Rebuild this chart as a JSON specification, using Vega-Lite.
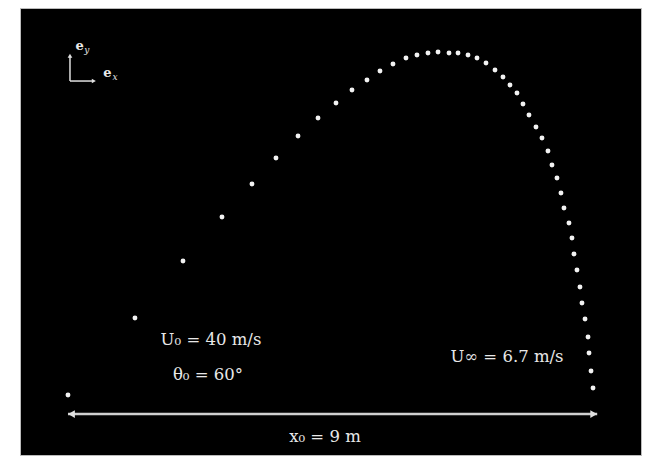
{
  "$schema": "https://vega.github.io/schema/vega-lite/v6.json",
  "width": 621,
  "height": 447,
  "autosize": {"type": "none"},
  "padding": {"left": 20, "top": 8, "right": 13, "bottom": 12},
  "background": "white",
  "config": {"view": {"fill": "black", "stroke": "#bbbbbb", "strokeWidth": 1}},
  "datasets": {
    "traj": [
      {"x": 0, "y": 0}, {"x": 1.139, "y": 1.31}, {"x": 1.956, "y": 2.279}, {"x": 2.619, "y": 3.027},
      {"x": 3.129, "y": 3.588}, {"x": 3.537, "y": 4.031}, {"x": 3.912, "y": 4.405}, {"x": 4.252, "y": 4.711},
      {"x": 4.558, "y": 4.966}, {"x": 4.83, "y": 5.187}, {"x": 5.085, "y": 5.357}, {"x": 5.306, "y": 5.51},
      {"x": 5.527, "y": 5.629}, {"x": 5.748, "y": 5.731}, {"x": 5.935, "y": 5.782}, {"x": 6.122, "y": 5.816},
      {"x": 6.293, "y": 5.833}, {"x": 6.48, "y": 5.816}, {"x": 6.633, "y": 5.816}, {"x": 6.803, "y": 5.782},
      {"x": 6.956, "y": 5.731}, {"x": 7.109, "y": 5.646}, {"x": 7.262, "y": 5.527}, {"x": 7.398, "y": 5.408},
      {"x": 7.517, "y": 5.272}, {"x": 7.636, "y": 5.136}, {"x": 7.738, "y": 4.949}, {"x": 7.84, "y": 4.762},
      {"x": 7.959, "y": 4.558}, {"x": 8.061, "y": 4.371}, {"x": 8.163, "y": 4.15}, {"x": 8.231, "y": 3.912},
      {"x": 8.316, "y": 3.69}, {"x": 8.384, "y": 3.435}, {"x": 8.435, "y": 3.18}, {"x": 8.52, "y": 2.925},
      {"x": 8.571, "y": 2.67}, {"x": 8.605, "y": 2.398}, {"x": 8.656, "y": 2.126}, {"x": 8.707, "y": 1.837},
      {"x": 8.741, "y": 1.565}, {"x": 8.793, "y": 1.293}, {"x": 8.844, "y": 0.986}, {"x": 8.861, "y": 0.714},
      {"x": 8.895, "y": 0.408}, {"x": 8.929, "y": 0.119}
    ],
    "span": [{"x": 0, "x2": 9, "y": -0.323, "y2": -0.323}],
    "spanHeads": [{"x": 0.06, "y": -0.323, "dir": "left"}, {"x": 8.94, "y": -0.323, "dir": "right"}],
    "labels": [
      {"x": 2.432, "y": 0.935, "t": "U₀ = 40 m/s"},
      {"x": 2.381, "y": 0.34, "t": "θ₀ = 60°"},
      {"x": 7.466, "y": 0.646, "t": "U∞ = 6.7 m/s"},
      {"x": 4.371, "y": -0.714, "t": "x₀ = 9 m"}
    ],
    "iconLines": [
      {"x": 0.034, "x2": 0.034, "y": 5.34, "y2": 5.76},
      {"x": 0.034, "x2": 0.43, "y": 5.34, "y2": 5.34}
    ],
    "iconHeads": [{"x": 0.034, "y": 5.77, "dir": "up"}, {"x": 0.44, "y": 5.34, "dir": "right"}],
    "iconLabels": [{"x": 0.2, "y": 5.94, "t": "e"}, {"x": 0.67, "y": 5.47, "t": "e"}],
    "iconSubs": [{"x": 0.32, "y": 5.87, "t": "y"}, {"x": 0.8, "y": 5.41, "t": "x"}]
  },
  "encoding": {
    "x": {"field": "x", "type": "quantitative", "scale": {"domain": [-0.816, 9.745], "nice": false, "zero": false}, "axis": null},
    "y": {"field": "y", "type": "quantitative", "scale": {"domain": [-1.02, 6.582], "nice": false, "zero": false}, "axis": null}
  },
  "layer": [
    {
      "data": {"name": "span"},
      "mark": {"type": "rule", "color": "#d0d0d0", "strokeWidth": 2.5},
      "encoding": {"x2": {"field": "x2"}, "y2": {"field": "y2"}}
    },
    {
      "data": {"name": "spanHeads"},
      "mark": {"type": "point", "filled": true, "color": "#e0e0e0", "size": 60, "opacity": 1},
      "encoding": {"shape": {"field": "dir", "type": "nominal", "scale": {"domain": ["left", "right", "up"], "range": ["triangle-left", "triangle-right", "triangle-up"]}, "legend": null}}
    },
    {
      "data": {"name": "traj"},
      "mark": {"type": "circle", "color": "white", "size": 24, "opacity": 0.95}
    },
    {
      "data": {"name": "labels"},
      "mark": {"type": "text", "color": "#e8e8e8", "font": "DejaVu Serif", "fontSize": 16.5, "align": "center", "baseline": "middle"},
      "encoding": {"text": {"field": "t"}}
    },
    {
      "data": {"name": "iconLines"},
      "mark": {"type": "rule", "color": "#e0e0e0", "strokeWidth": 1.5},
      "encoding": {"x2": {"field": "x2"}, "y2": {"field": "y2"}}
    },
    {
      "data": {"name": "iconHeads"},
      "mark": {"type": "point", "filled": true, "color": "#e0e0e0", "size": 22, "opacity": 1},
      "encoding": {"shape": {"field": "dir", "type": "nominal", "scale": {"domain": ["left", "right", "up"], "range": ["triangle-left", "triangle-right", "triangle-up"]}, "legend": null}}
    },
    {
      "data": {"name": "iconLabels"},
      "mark": {"type": "text", "color": "#e8e8e8", "font": "DejaVu Serif", "fontSize": 13, "fontWeight": "bold", "align": "center", "baseline": "middle"},
      "encoding": {"text": {"field": "t"}}
    },
    {
      "data": {"name": "iconSubs"},
      "mark": {"type": "text", "color": "#e8e8e8", "font": "DejaVu Serif", "fontSize": 9, "fontStyle": "italic", "align": "center", "baseline": "middle"},
      "encoding": {"text": {"field": "t"}}
    }
  ]
}
